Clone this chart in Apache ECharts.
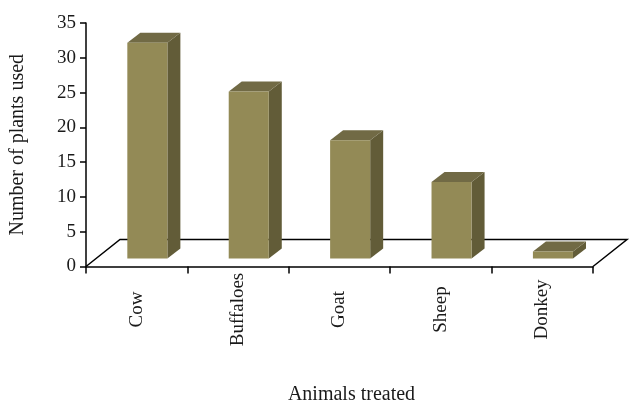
<!DOCTYPE html>
<html><head><meta charset="utf-8">
<style>html,body{margin:0;padding:0;background:#fff}#c{width:640px;height:410px}</style>
<script src="https://cdn.jsdelivr.net/npm/echarts@6/dist/echarts.min.js"></script>
</head><body><div id="c"></div>
<script>
const categories = ['Cow','Buffaloes','Goat','Sheep','Donkey'];
const plantsUsed = [31,24,17,11,1];
const yTicks = {min:0,max:35,interval:5};
const FONT = '"Liberation Serif", serif';
const floorDepth = [34,-27], barDepth = [13,-10], barLift = 8, barWidthFrac = 0.395, barShift = 0.105;
const chart = echarts.init(document.getElementById('c'),null,{renderer:'canvas'});
chart.setOption({
  animation:false,
  backgroundColor:'#fff',
  grid:{left:83,top:23,width:510,height:243.5,containLabel:false},
  xAxis:{type:'category',data:categories,boundaryGap:true,
    name:'Animals treated',nameLocation:'middle',nameGap:118,
    nameTextStyle:{fontFamily:FONT,fontSize:20,color:'#1a1a1a',padding:[0,0,0,24]},
    axisLine:{show:true,lineStyle:{color:'#000',width:1.5}},
    axisTick:{show:true,alignWithLabel:false,length:7,lineStyle:{color:'#000',width:1.5}},
    axisLabel:{interval:0,rotate:90,align:'center',verticalAlign:'middle',margin:43,padding:[18,0,0,0],fontFamily:FONT,fontSize:19,color:'#1a1a1a'},
    splitLine:{show:false}},
  yAxis:{type:'value',min:yTicks.min,max:yTicks.max,interval:yTicks.interval,
    name:'Number of plants used',nameLocation:'middle',nameGap:58,
    nameTextStyle:{fontFamily:FONT,fontSize:20,color:'#1a1a1a'},
    axisLine:{show:true,lineStyle:{color:'#000',width:1.5}},
    axisTick:{show:true,length:6,lineStyle:{color:'#000',width:1.5}},
    axisLabel:{margin:10,fontFamily:FONT,fontSize:19,color:'#1a1a1a'},
    splitLine:{show:false}},
  series:[
  {type:'custom',silent:true,z:1,clip:false,data:[[0]],
   renderItem(p,api){
     const a=api.coord([0,0]), band=api.size([1,0])[0];
     const x0=a[0]-band/2, y0=a[1], x1=x0+band*categories.length;
     return {type:'polyline',shape:{points:[[x0,y0],[x0+floorDepth[0],y0+floorDepth[1]],[x1+floorDepth[0],y0+floorDepth[1]],[x1,y0]]},
       style:{stroke:'#000',lineWidth:1.5,fill:null}};
   }},
  {type:'custom',silent:true,z:2,clip:false,encode:{x:0,y:1},
   data:plantsUsed.map((v,i)=>[i,v]),
   renderItem(p,api){
     const c=api.coord([api.value(0),api.value(1)]), base=api.coord([api.value(0),0]);
     const band=api.size([1,0])[0], w=band*barWidthFrac;
     const l=c[0]+band*barShift-w/2, r=l+w, t=c[1]-barLift, b=base[1]-barLift;
     const dx=barDepth[0], dy=barDepth[1];
     return {type:'group',children:[
       {type:'polygon',shape:{points:[[r,t],[r+dx,t+dy],[r+dx,b+dy],[r,b]]},style:{fill:'#625c38'}},
       {type:'polygon',shape:{points:[[l,t],[l+dx,t+dy],[r+dx,t+dy],[r,t]]},style:{fill:'#716a45'}},
       {type:'rect',shape:{x:l,y:t,width:w,height:b-t},style:{fill:'#938a56'}}
     ]};
   }}
  ]
});
</script></body></html>
